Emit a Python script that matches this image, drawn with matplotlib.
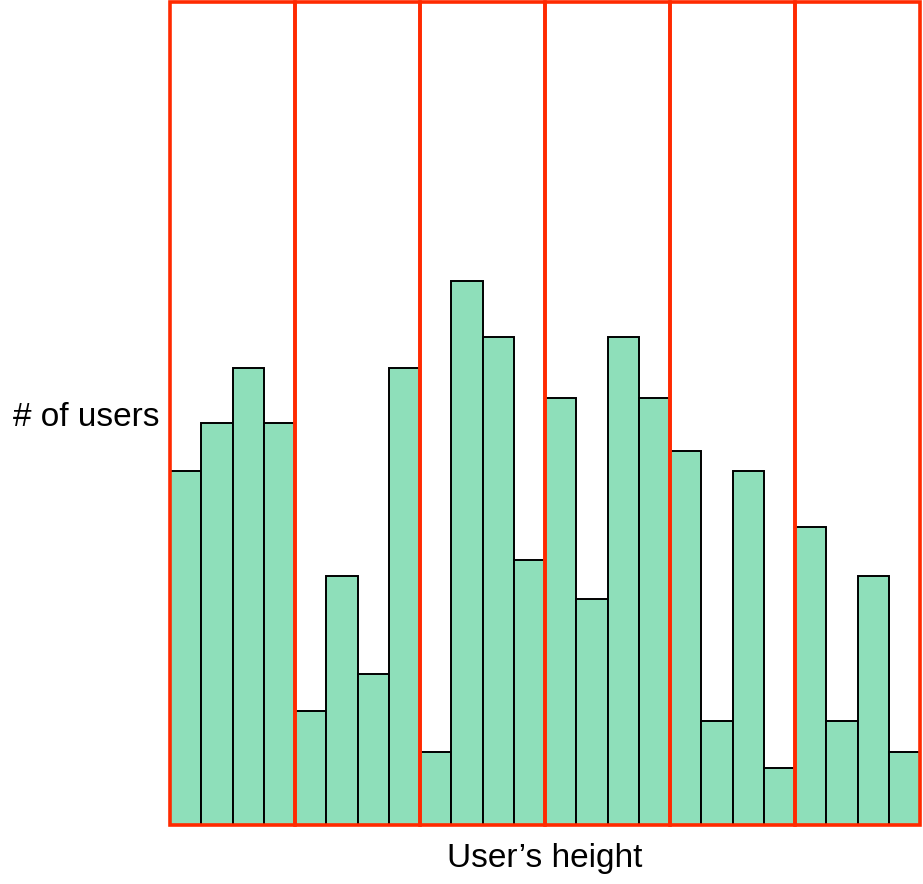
import matplotlib.pyplot as plt
from matplotlib.patches import Rectangle
import numpy as np

# bar heights (pixel-ish units, axis top = 823)
users = [354, 402, 457, 402,
         114, 249, 151, 457,
         73, 544, 488, 265,
         427, 226, 488, 427,
         374, 104, 354, 57,
         298, 104, 249, 73]
bars_per_group = 4
n_groups = 6
y_top = 823

fig = plt.figure(figsize=(9.23, 8.84), dpi=100)
ax = fig.add_axes([170 / 923, (884 - 825) / 884, 750 / 923, 823 / 884])

x = np.arange(len(users))
ax.bar(x, users, width=1, align='edge', color='#8EDFBA',
       edgecolor='black', linewidth=1.4, zorder=2)

for g in range(n_groups):
    ax.add_patch(Rectangle((g * bars_per_group, 0), bars_per_group, y_top,
                           fill=False, edgecolor='#FF2A00', linewidth=2.6,
                           zorder=3, clip_on=False))

ax.set_xlim(0, len(users))
ax.set_ylim(0, y_top)
ax.axis('off')

fig.text(86 / 923, 1 - 417 / 884, '# of users', ha='center', va='center',
         fontsize=24, family='Liberation Sans')
fig.text(545 / 923, 1 - 858 / 884, 'User\u2019s height', ha='center', va='center',
         fontsize=24, family='Liberation Sans')

plt.savefig('out.png')
